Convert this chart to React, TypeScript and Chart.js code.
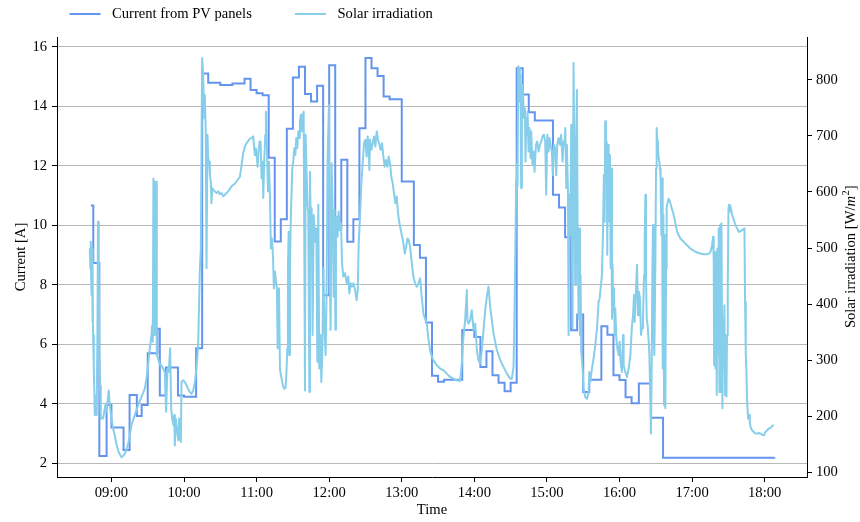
import React, { useEffect, useRef } from 'react';
import { Chart, registerables } from 'chart.js';

Chart.register(...registerables);

// Output current of the PV panels, logged as a step series (value holds until the next sample)
const currentTimes = [
  '08:43', '08:45', '08:50', '08:56', '09:00', '09:10', '09:15', '09:21', '09:25', '09:30',
  '09:38', '09:40', '09:45', '09:55', '10:00', '10:10', '10:15', '10:20', '10:30', '10:40',
  '10:50', '10:55', '11:00', '11:05', '11:10', '11:15', '11:20', '11:25', '11:30', '11:35',
  '11:40', '11:45', '11:50', '11:55', '12:00', '12:05', '12:10', '12:15', '12:20', '12:25',
  '12:30', '12:35', '12:40', '12:45', '12:50', '13:00', '13:10', '13:15', '13:20', '13:25',
  '13:30', '13:35', '13:50', '14:00', '14:05', '14:10', '14:15', '14:20', '14:25', '14:30',
  '14:35', '14:40', '14:45', '14:50', '15:05', '15:10', '15:15', '15:20', '15:25', '15:30',
  '15:35', '15:45', '15:50', '15:55', '16:00', '16:05', '16:10', '16:16', '16:26', '16:36',
  '18:08',
];
const currentAmps = [
  10.67, 8.73, 2.25, 3.96, 3.2, 2.45, 4.3, 3.59, 3.96, 5.7,
  6.52, 4.28, 5.22, 4.28, 4.24, 5.87, 15.1, 14.79, 14.72, 14.77,
  14.93, 14.55, 14.44, 14.37, 12.27, 9.46, 10.2, 13.25, 14.97, 15.33,
  14.41, 14.16, 14.69, 7.65, 15.38, 9.92, 12.2, 9.45, 10.2, 13.26,
  15.62, 15.28, 15.02, 14.33, 14.24, 11.47, 9.34, 8.91, 6.73, 4.94,
  4.74, 4.81, 6.48, 6.25, 5.24, 5.77, 4.96, 4.71, 4.42, 4.71,
  15.28, 14.4, 13.8, 13.52, 11.03, 10.6, 9.6, 6.47, 7.0, 4.4,
  4.81, 6.61, 6.32, 4.96, 4.8, 4.22, 4.02, 4.68, 3.53, 2.19,
  2.2,
];

// Solar irradiation samples: [minutes since midnight, W/m2]
const irradiance: [number, number][] = [
  [522.1, 499], [522.6, 464], [522.9, 511], [523.2, 452], [523.4, 505], [523.7, 416], [524.0, 499], [524.3, 368],
  [524.5, 464], [524.8, 345], [525.4, 285], [525.9, 238], [526.2, 202], [527.0, 226], [527.8, 202], [528.4, 345],
  [528.9, 547], [529.5, 464], [530.0, 315], [530.6, 255], [531.2, 196], [533.1, 196], [535.0, 220], [535.8, 208],
  [537.8, 246], [538.6, 220], [540.0, 196], [541.4, 178], [542.7, 166], [544.1, 151], [545.5, 139], [546.9, 132],
  [548.3, 127], [549.6, 129], [551.0, 133], [552.4, 140], [553.8, 151], [555.2, 166], [556.5, 184], [559.3, 202],
  [562.1, 220], [564.8, 234], [567.6, 249], [568.9, 267], [570.3, 291], [571.7, 321], [572.5, 333], [573.1, 345],
  [573.6, 362], [574.2, 333], [574.7, 624], [575.3, 345], [575.8, 618], [576.4, 357], [576.9, 618], [577.5, 309],
  [578.6, 303], [580.0, 291], [581.4, 291], [582.7, 285], [584.1, 279], [585.2, 208], [586.3, 285], [587.4, 279],
  [588.5, 321], [589.4, 214], [590.2, 196], [591.3, 184], [591.9, 202], [592.4, 148], [593.2, 196], [594.1, 178],
  [595.2, 157], [596.0, 196], [596.8, 160], [597.4, 154], [597.9, 261], [599.3, 264], [600.7, 261], [602.1, 255],
  [603.4, 249], [604.8, 243], [606.2, 240], [607.6, 246], [609.0, 261], [610.3, 285], [611.7, 327], [613.1, 464],
  [613.9, 499], [614.5, 702], [615.0, 839], [615.8, 809], [616.7, 732], [617.2, 773], [618.0, 702], [618.6, 464],
  [619.4, 702], [620.0, 660], [620.8, 654], [621.4, 630], [622.2, 618], [622.7, 580], [623.3, 607], [624.1, 604],
  [625.5, 601], [626.9, 598], [628.3, 601], [629.6, 596], [631.0, 598], [632.4, 592], [633.8, 595], [636.5, 601],
  [639.3, 610], [642.1, 615], [644.8, 623], [646.2, 627], [647.6, 648], [648.9, 669], [650.3, 681], [651.7, 687],
  [653.1, 691], [654.5, 695], [655.8, 696], [657.2, 699], [658.0, 678], [658.6, 666], [659.4, 678], [660.3, 660],
  [660.8, 645], [661.6, 672], [662.5, 690], [663.3, 690], [664.1, 624], [664.9, 654], [665.5, 589], [666.3, 654],
  [667.2, 702], [667.7, 743], [668.5, 684], [669.4, 601], [670.2, 654], [671.0, 595], [671.8, 499], [672.7, 517],
  [673.5, 487], [674.3, 428], [675.2, 458], [676.0, 440], [676.8, 428], [677.4, 321], [677.9, 404], [678.5, 428],
  [679.3, 285], [680.1, 273], [681.2, 261], [682.1, 252], [682.9, 249], [684.0, 251], [684.8, 285], [685.4, 321],
  [685.9, 464], [686.5, 529], [687.0, 309], [687.6, 464], [688.1, 535], [688.7, 583], [689.5, 642], [690.3, 654],
  [691.2, 678], [692.0, 666], [692.8, 696], [693.6, 678], [694.5, 708], [695.3, 696], [695.8, 726], [696.7, 738],
  [697.2, 708], [698.0, 732], [698.9, 743], [699.4, 523], [700.0, 246], [700.5, 702], [701.4, 630], [702.2, 571],
  [702.7, 565], [703.6, 243], [704.1, 636], [704.9, 523], [705.5, 571], [706.3, 345], [707.2, 559], [708.3, 511],
  [709.4, 535], [710.2, 297], [711.0, 577], [711.8, 285], [712.7, 345], [713.5, 261], [714.3, 309], [715.2, 464],
  [716.0, 362], [717.1, 309], [717.9, 434], [718.7, 660], [719.8, 755], [720.4, 473], [721.2, 354], [722.0, 651],
  [722.9, 562], [723.7, 413], [724.5, 568], [725.1, 354], [725.6, 532], [726.2, 556], [727.0, 520], [727.8, 565],
  [728.9, 532], [729.8, 544], [730.6, 473], [731.7, 449], [733.1, 455], [734.5, 437], [735.8, 449], [736.7, 419],
  [737.8, 437], [738.9, 431], [740.0, 437], [741.4, 425], [742.7, 407], [743.6, 425], [744.4, 508], [745.5, 556],
  [746.6, 615], [747.7, 651], [748.8, 687], [749.9, 693], [751.0, 663], [751.8, 699], [752.7, 681], [753.2, 639],
  [753.8, 693], [754.9, 675], [756.0, 687], [757.1, 699], [758.2, 681], [759.3, 708], [760.4, 693], [761.5, 684],
  [762.6, 675], [763.7, 687], [764.8, 663], [765.9, 645], [767.0, 657], [768.1, 645], [769.2, 663], [770.3, 651],
  [771.4, 627], [772.5, 615], [773.6, 598], [774.7, 580], [775.8, 592], [776.9, 562], [778.1, 544], [779.2, 532],
  [780.3, 520], [781.4, 508], [782.5, 490], [783.6, 502], [784.7, 517], [785.8, 514], [786.9, 502], [788.3, 473],
  [789.6, 449], [791.0, 437], [792.4, 431], [793.8, 437], [795.2, 446], [796.5, 413], [797.9, 383], [800.7, 365],
  [802.1, 336], [803.4, 318], [804.8, 306], [806.2, 300], [808.9, 291], [811.7, 285], [814.5, 282], [817.2, 276],
  [820.0, 270], [822.7, 267], [825.5, 264], [828.3, 263], [829.6, 294], [831.0, 342], [832.4, 371], [833.8, 425],
  [834.3, 371], [835.2, 365], [836.5, 371], [837.9, 389], [839.3, 354], [840.7, 365], [842.1, 318], [843.4, 300],
  [844.8, 294], [846.2, 318], [847.6, 354], [849.0, 389], [850.3, 413], [851.7, 431], [853.1, 395], [854.5, 371],
  [855.8, 348], [858.6, 318], [861.4, 300], [864.1, 288], [866.9, 276], [869.6, 267], [871.0, 267], [872.4, 288],
  [873.2, 383], [874.1, 532], [874.6, 621], [875.2, 651], [875.7, 610], [876.3, 824], [877.1, 821], [877.6, 761],
  [878.2, 809], [878.7, 607], [879.3, 761], [880.1, 791], [880.9, 732], [881.8, 749], [882.3, 654], [882.9, 732],
  [883.4, 702], [884.0, 743], [884.8, 672], [885.6, 714], [886.5, 660], [887.0, 708], [888.1, 648], [888.9, 672],
  [889.8, 636], [890.9, 684], [892.0, 690], [893.1, 672], [894.2, 684], [895.3, 690], [896.4, 699], [897.5, 702],
  [898.6, 690], [899.4, 595], [900.3, 702], [901.4, 672], [902.2, 696], [903.0, 684], [904.1, 672], [904.9, 630],
  [905.8, 684], [906.9, 678], [907.7, 630], [908.5, 684], [909.6, 696], [910.7, 684], [911.8, 702], [912.9, 654],
  [913.8, 690], [914.6, 684], [915.2, 714], [916.0, 607], [916.5, 684], [917.4, 601], [917.9, 345], [918.5, 595],
  [919.3, 523], [920.1, 720], [920.7, 493], [921.2, 357], [922.0, 830], [922.6, 702], [923.4, 434], [924.0, 642],
  [924.8, 782], [925.4, 523], [926.2, 374], [926.7, 535], [927.3, 345], [927.8, 452], [928.4, 315], [929.5, 285],
  [930.3, 249], [931.7, 234], [933.1, 231], [934.5, 243], [935.0, 279], [935.8, 261], [937.2, 285], [938.6, 303],
  [940.0, 327], [941.4, 357], [942.7, 404], [943.6, 410], [944.4, 428], [945.5, 452], [946.3, 523], [947.1, 630],
  [947.7, 547], [948.2, 726], [948.8, 642], [949.4, 690], [949.9, 488], [950.5, 672], [951.0, 684], [951.6, 547],
  [952.1, 666], [952.7, 464], [953.2, 642], [953.8, 374], [954.3, 470], [954.9, 386], [955.4, 428], [956.0, 345],
  [956.5, 392], [957.4, 339], [958.2, 321], [959.3, 309], [960.1, 333], [960.9, 297], [962.0, 279], [962.9, 345],
  [963.4, 291], [964.8, 279], [966.2, 270], [967.6, 285], [969.0, 309], [970.3, 362], [971.2, 380], [972.0, 416],
  [972.5, 368], [973.6, 422], [974.5, 470], [975.3, 380], [976.1, 422], [976.9, 410], [977.8, 345], [978.6, 357],
  [979.4, 374], [980.3, 452], [980.8, 511], [981.4, 595], [981.9, 452], [982.5, 374], [983.3, 362], [984.1, 333],
  [984.7, 309], [985.5, 232], [986.0, 169], [986.6, 285], [987.2, 464], [987.7, 541], [988.3, 345], [988.8, 309],
  [989.6, 464], [990.2, 642], [990.7, 714], [991.3, 690], [991.8, 678], [992.4, 660], [992.9, 654], [993.5, 642],
  [994.0, 624], [994.6, 523], [995.2, 624], [995.7, 285], [996.3, 559], [996.8, 220], [997.4, 523], [997.9, 214],
  [998.5, 464], [999.0, 571], [999.6, 580], [1000.6, 588], [1001.5, 584], [1004.8, 559], [1007.6, 529], [1010.3, 517],
  [1013.1, 511], [1015.8, 505], [1018.6, 499], [1021.4, 495], [1024.1, 492], [1026.9, 490], [1029.6, 489], [1032.4, 489],
  [1033.8, 490], [1035.2, 493], [1036.5, 505], [1037.4, 520], [1037.9, 476], [1038.2, 291], [1038.7, 493], [1039.3, 285],
  [1039.8, 493], [1040.4, 238], [1040.9, 499], [1041.5, 309], [1042.0, 535], [1042.6, 243], [1043.2, 541], [1043.7, 243],
  [1044.3, 544], [1044.8, 345], [1045.1, 214], [1045.6, 374], [1046.2, 285], [1046.7, 398], [1047.3, 238], [1047.8, 345],
  [1048.4, 235], [1048.9, 345], [1049.5, 434], [1050.1, 571], [1050.6, 577], [1051.2, 565], [1051.7, 574], [1052.3, 568],
  [1053.1, 559], [1054.5, 550], [1055.8, 541], [1057.2, 535], [1058.6, 529], [1060.0, 530], [1061.4, 532], [1062.7, 534],
  [1063.3, 535], [1063.8, 404], [1064.4, 309], [1064.9, 285], [1065.5, 226], [1066.3, 196], [1067.2, 202], [1067.7, 190],
  [1068.3, 181], [1069.6, 175], [1071.0, 172], [1072.4, 169], [1073.8, 169], [1075.2, 170], [1076.5, 169], [1077.9, 167],
  [1079.3, 166], [1080.7, 172], [1082.1, 175], [1083.4, 178], [1084.8, 179], [1086.2, 183], [1087.6, 184],
];

const hourTicks = ['09:00', '10:00', '11:00', '12:00', '13:00', '14:00', '15:00', '16:00', '17:00', '18:00'];
const currentTicks = [2, 4, 6, 8, 10, 12, 14, 16];
const irradianceTicks = [100, 200, 300, 400, 500, 600, 700, 800];

const SERIF = '"Liberation Serif", "Times New Roman", Times, serif';
const FONT_SIZE = 14.6;
const CURRENT_COLOR = '#6495ED';
const IRRADIANCE_COLOR = '#87CEEB';
const GRID_COLOR = '#b8b8b8';

const toMinutes = (clock: string) => {
  const [h, m] = clock.split(':').map(Number);
  return h * 60 + m;
};
const toClock = (minutes: number) => {
  const h = Math.floor(minutes / 60);
  const m = Math.round(minutes - h * 60);
  return `${String(h).padStart(2, '0')}:${String(m).padStart(2, '0')}`;
};

// Legend above the plot and the right-hand axis title (which carries an italic unit with a superscript)
const decorations = {
  id: 'decorations',
  afterDraw(chart: any) {
    const { ctx, chartArea } = chart;
    ctx.save();
    ctx.textBaseline = 'middle';
    ctx.fillStyle = '#000';
    ctx.font = `${FONT_SIZE}px ${SERIF}`;
    const legendX = [69.5, 295];
    const legendY = 14;
    chart.data.datasets
      .slice()
      .sort((a: any, b: any) => a.legendIndex - b.legendIndex)
      .forEach((ds: any, i: number) => {
        const x = legendX[i];
        ctx.strokeStyle = ds.borderColor;
        ctx.lineWidth = 2;
        ctx.beginPath();
        ctx.moveTo(x, legendY);
        ctx.lineTo(x + 31, legendY);
        ctx.stroke();
        ctx.fillText(ds.label, x + 42.5, legendY);
      });

    const parts = [
      { text: 'Solar irradiation [W/', font: `${FONT_SIZE}px ${SERIF}`, dy: 0 },
      { text: 'm', font: `italic ${FONT_SIZE}px ${SERIF}`, dy: 0 },
      { text: '2', font: `10.5px ${SERIF}`, dy: -5 },
      { text: ']', font: `${FONT_SIZE}px ${SERIF}`, dy: 0 },
    ];
    const widths = parts.map((p) => {
      ctx.font = p.font;
      return ctx.measureText(p.text).width;
    });
    const total = widths.reduce((a, b) => a + b, 0);
    ctx.translate(851, (chartArea.top + chartArea.bottom) / 2);
    ctx.rotate(-Math.PI / 2);
    let x = -total / 2;
    parts.forEach((p, i) => {
      ctx.font = p.font;
      ctx.fillText(p.text, x, p.dy);
      x += widths[i] + (i === 1 ? 0.5 : 0);
    });
    ctx.restore();
  },
};

const tickFont = { family: SERIF, size: FONT_SIZE };

export default function App() {
  const canvasRef = useRef<HTMLCanvasElement>(null);

  useEffect(() => {
    const canvas = canvasRef.current;
    if (!canvas) return;
    const chart = new Chart(canvas, {
      type: 'line',
      data: {
        datasets: [
          {
            label: 'Solar irradiation',
            legendIndex: 1,
            data: irradiance.map(([t, s]) => ({ x: t, y: s })),
            yAxisID: 'y1',
            borderColor: IRRADIANCE_COLOR,
            backgroundColor: IRRADIANCE_COLOR,
            borderWidth: 2,
            borderJoinStyle: 'round',
            pointRadius: 0,
            tension: 0,
            order: 0,
          } as any,
          {
            label: 'Current from PV panels',
            legendIndex: 0,
            data: currentTimes.map((t, i) => ({ x: toMinutes(t), y: currentAmps[i] })),
            yAxisID: 'y',
            borderColor: CURRENT_COLOR,
            backgroundColor: CURRENT_COLOR,
            borderWidth: 2,
            pointRadius: 0,
            stepped: 'before',
            order: 1,
          } as any,
        ],
      },
      options: {
        responsive: false,
        devicePixelRatio: 1,
        animation: false,
        events: [],
        layout: { padding: { top: 37, left: 0, right: 0, bottom: 0 } },
        plugins: {
          legend: { display: false },
          tooltip: { enabled: false },
        },
        scales: {
          x: {
            type: 'linear',
            min: 495,
            max: 1115,
            afterBuildTicks: (scale: any) => {
              scale.ticks = hourTicks.map((h) => ({ value: toMinutes(h) }));
            },
            afterFit: (scale: any) => {
              scale.height = 45;
            },
            ticks: {
              callback: (v: any) => toClock(Number(v)),
              font: tickFont,
              color: '#000',
              padding: 2,
              maxRotation: 0,
              autoSkip: false,
            },
            grid: {
              drawOnChartArea: false,
              drawTicks: true,
              tickLength: 5,
              tickColor: '#000',
              tickWidth: 1,
            },
            border: { display: true, color: '#000', width: 1 },
            title: {
              display: true,
              text: 'Time',
              font: tickFont,
              color: '#000',
              padding: { top: 0, bottom: 3 },
            },
          },
          y: {
            type: 'linear',
            position: 'left',
            min: 1.54,
            max: 16.33,
            afterBuildTicks: (scale: any) => {
              scale.ticks = currentTicks.map((v) => ({ value: v }));
            },
            afterFit: (scale: any) => {
              scale.width = 57;
            },
            ticks: {
              callback: (v: any) => String(v),
              font: tickFont,
              color: '#000',
              padding: 5,
            },
            grid: {
              drawOnChartArea: true,
              color: GRID_COLOR,
              lineWidth: 1,
              drawTicks: true,
              tickLength: 5,
              tickColor: '#000',
              tickWidth: 1,
            },
            border: { display: true, color: '#000', width: 1 },
            title: {
              display: true,
              text: 'Current [A]',
              font: tickFont,
              color: '#000',
              padding: { top: 12, bottom: 0 },
            },
          },
          y1: {
            type: 'linear',
            position: 'right',
            min: 91.6,
            max: 876.3,
            afterBuildTicks: (scale: any) => {
              scale.ticks = irradianceTicks.map((v) => ({ value: v }));
            },
            afterFit: (scale: any) => {
              scale.width = 53;
            },
            ticks: {
              callback: (v: any) => String(v),
              font: tickFont,
              color: '#000',
              padding: 4,
            },
            grid: {
              drawOnChartArea: false,
              drawTicks: true,
              tickLength: 5,
              tickColor: '#000',
              tickWidth: 1,
            },
            border: { display: true, color: '#000', width: 1 },
          },
        },
      } as any,
      plugins: [decorations],
    });
    return () => chart.destroy();
  }, []);

  return (
    <div style={{ position: 'fixed', left: 0, top: 0, width: 860, height: 522, background: '#fff' }}>
      <canvas ref={canvasRef} width={860} height={522} style={{ display: 'block', width: 860, height: 522 }} />
    </div>
  );
}
